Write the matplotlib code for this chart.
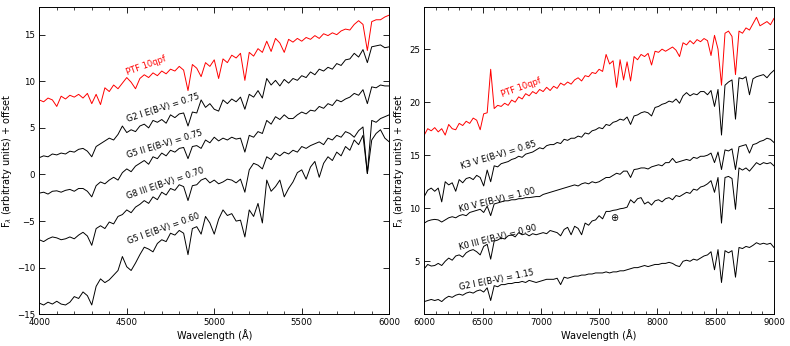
import numpy as np
import matplotlib
matplotlib.use('Agg')
import matplotlib.pyplot as plt
from matplotlib.ticker import MultipleLocator

wl_blue = np.arange(4000, 6001, 25)
wl_red = np.arange(6000, 9001, 30)

# blue side (4000-6000 A)
ptf_blue = [8.0, 7.8, 8.2, 8.0, 7.3, 8.4, 8.1, 8.5, 8.3, 8.6,
            8.2, 8.7, 7.6, 8.6, 7.5, 9.3, 8.9, 9.6, 9.2, 9.8,
            10.4, 9.9, 9.2, 10.3, 10.7, 10.4, 10.9, 10.6, 11.1, 10.8,
            11.3, 11.1, 11.6, 11.2, 9.0, 11.8, 11.4, 10.5, 12.0, 11.6,
            12.3, 10.3, 12.4, 12.0, 12.8, 12.5, 13.0, 10.1, 13.1, 12.7,
            13.5, 13.1, 14.3, 13.2, 14.6, 14.1, 13.1, 14.5, 14.2, 14.6,
            14.3, 14.7, 14.5, 14.9, 14.6, 15.1, 14.9, 15.2, 15.0, 15.4,
            15.6, 15.5, 16.1, 16.5, 16.1, 13.3, 16.4, 16.6, 16.6, 16.9,
            17.1]
g2i_blue = [1.8, 2.0, 1.9, 2.2, 2.1, 2.3, 2.2, 2.5, 2.4, 2.7,
            2.8, 2.5, 1.9, 3.0, 3.3, 3.6, 3.9, 3.7, 4.3, 5.2,
            4.5, 4.8, 4.6, 5.2, 5.4, 5.0, 5.8, 5.6, 5.9, 5.5,
            6.4, 6.1, 6.5, 6.6, 5.2, 6.7, 6.6, 8.0, 7.2, 7.6,
            7.0, 6.8, 8.0, 7.6, 8.1, 7.8, 8.3, 7.0, 8.6, 8.3,
            9.0, 8.2, 10.3, 9.6, 10.1, 9.5, 10.2, 9.8, 10.3, 10.1,
            10.6, 10.4, 11.0, 10.7, 11.3, 11.1, 11.5, 11.3, 11.9, 11.7,
            12.3, 12.4, 13.0, 12.6, 13.4, 12.0, 13.7, 13.8, 13.9, 13.6,
            13.7]
g5ii_blue = [-2.0, -1.9, -2.1, -1.8, -1.75, -1.9, -1.7, -1.6, -1.8, -1.5,
             -1.5, -1.8, -2.4, -1.2, -0.8, -1.0, -0.6, -0.3, -0.6, 0.2,
             0.6, 0.3, 0.9, 1.2, 1.5, 1.1, 1.9, 1.7, 2.3, 2.0,
             2.6, 2.4, 2.8, 2.9, 1.7, 3.0, 3.1, 2.8, 3.7, 3.4,
             4.0, 3.6, 3.9, 3.7, 4.0, 3.8, 3.9, 2.4, 4.2, 4.0,
             4.6, 4.4, 5.8, 5.4, 6.2, 5.9, 6.4, 6.0, 6.0, 6.4,
             6.7, 6.5, 6.9, 6.8, 7.3, 7.1, 7.6, 7.4, 8.0, 7.8,
             8.1, 8.3, 8.7, 8.5, 9.1, 7.6, 9.4, 9.3, 9.6, 9.5,
             9.5]
g8iii_blue = [-7.0, -7.2, -6.9, -6.7, -6.8, -7.0, -6.9, -6.7, -6.9, -6.5,
              -6.2, -6.6, -7.6, -5.8, -5.5, -5.8, -5.1, -5.3, -4.5, -4.3,
              -3.8, -4.1, -3.5, -3.2, -2.8, -3.1, -2.4, -2.7, -1.9, -2.2,
              -1.5, -1.7, -1.1, -1.3, -2.8, -1.2, -1.1, -0.6, -0.4, -0.9,
              -0.6, -1.0, -0.8, -0.5, -0.6, -0.9, -0.5, -1.9, 0.5, 1.2,
              1.0, 0.6, 1.9, 1.6, 2.3, 2.0, 2.4, 2.2, 2.6, 2.4,
              3.0, 2.8, 3.1, 3.3, 3.5, 3.2, 3.9, 3.7, 4.2, 4.0,
              4.6, 4.4, 4.0, 4.7, 5.1, 0.1, 5.8, 5.6, 6.0, 6.2,
              6.4]
g5i_blue = [-13.8, -14.0, -13.7, -13.9, -13.6, -13.9, -14.0, -13.7, -13.1, -13.3,
            -12.6, -13.0, -14.0, -12.0, -11.2, -11.6, -11.3, -10.8, -10.3, -8.8,
            -9.9, -10.3, -9.5, -8.6, -7.8, -8.0, -8.3, -7.4, -7.0, -7.2,
            -6.3, -6.5, -6.0, -6.3, -8.6, -5.8, -5.6, -6.4, -4.5, -5.2,
            -6.4, -4.8, -3.8, -4.4, -4.2, -5.0, -4.9, -6.7, -3.8, -4.5,
            -3.1, -5.2, -0.6, -1.8, -1.3, -0.6, -2.4, -1.5, -0.8, 0.2,
            0.5, -0.5, 0.8, 1.4, -0.3, 1.2, 1.9, 1.5, 2.4, 2.0,
            3.0, 2.6, 3.7, 3.2, 4.2, 0.1, 3.7, 4.4, 4.8, 3.9,
            3.5]

# red side (6000-9000 A)
ptf_red = [16.9, 17.5, 17.3, 17.6, 17.2, 17.5, 16.9, 17.9, 17.5, 17.4,
           18.0, 17.8, 18.2, 18.0, 18.5, 18.3, 17.4, 18.9, 19.0, 23.1,
           19.4, 19.7, 19.6, 19.9, 19.7, 20.2, 20.0, 20.5, 20.3, 20.8,
           20.6, 21.0, 20.8, 21.2, 21.0, 21.4, 21.1, 21.5, 21.3, 21.8,
           21.6, 21.9, 21.7, 22.1, 22.3, 22.0, 22.5, 22.4, 22.8, 22.7,
           23.1, 22.9, 24.5, 23.6, 23.9, 21.4, 24.0, 22.1, 23.8, 22.0,
           24.3, 24.0, 24.5, 24.3, 24.6, 23.5, 24.8, 24.7, 25.0, 24.8,
           25.0, 25.2, 24.9, 24.3, 25.6, 25.4, 25.8, 25.5, 25.9, 25.7,
           26.0, 25.8, 24.4, 26.3, 25.0, 21.6, 26.5, 26.7, 26.2, 22.6,
           26.7, 26.5, 27.0, 26.8, 27.4, 28.0, 27.2, 27.4, 27.6, 27.3,
           27.9]
k3v_red = [11.1, 11.7, 11.9, 11.6, 11.9, 10.6, 12.5, 12.2, 12.4, 11.6,
           12.7, 12.4, 12.8, 12.9, 12.7, 13.1, 12.9, 12.1, 13.6, 12.5,
           14.0, 13.9, 14.2, 14.3, 14.4, 14.6, 14.7, 14.9, 14.8, 15.1,
           15.2, 15.3, 15.5, 15.7, 15.6, 15.9, 16.0, 16.0, 16.2, 16.1,
           16.5, 16.4, 16.6, 16.6, 16.8, 16.7, 17.1, 17.0, 17.3, 17.4,
           17.6, 17.5, 17.9, 17.8, 18.1, 18.2, 18.4, 18.3, 18.6, 17.9,
           18.7, 18.8, 19.0, 19.1, 19.0, 18.7, 19.5, 19.6, 19.8, 19.9,
           20.1, 20.0, 20.3, 19.9, 20.6, 20.9, 20.6, 20.8, 20.7, 21.0,
           21.0, 20.7, 21.1, 19.6, 21.2, 16.9, 21.6, 21.9, 22.1, 18.4,
           22.3, 22.2, 22.4, 20.7, 22.2, 22.4, 22.5, 22.6, 22.3, 22.7,
           23.0]
k0v_red = [8.6, 8.8, 8.9, 8.95, 8.9, 8.7, 8.9, 9.1, 9.2, 9.1,
           9.3, 9.4, 9.3, 9.6, 9.7, 9.8, 9.9, 9.6, 10.2, 9.3,
           10.4, 10.5, 10.6, 10.7, 10.7, 10.8, 10.8, 10.9, 10.9, 11.0,
           11.0, 11.05, 11.1, 11.1, 11.3, 11.4, 11.5, 11.6, 11.7, 11.8,
           11.9, 12.0, 12.1, 12.2, 12.1, 12.3, 12.4, 12.3, 12.5, 12.4,
           12.5, 12.7, 12.9, 12.9, 13.1, 13.3, 13.2, 13.5, 13.5, 12.9,
           13.65, 13.7, 13.8, 13.8, 13.7, 13.9, 14.0, 14.1, 14.0, 14.3,
           14.3, 14.7, 14.3, 14.4, 14.5, 14.6, 14.5, 14.8, 14.7, 14.9,
           14.9, 15.0, 15.2, 14.3, 15.3, 13.65, 15.5, 15.4, 15.6, 13.65,
           15.8, 15.9, 16.0, 15.2, 16.0, 16.1, 16.3, 16.4, 16.6, 16.5,
           16.2]
k0iii_red = [4.3, 4.7, 4.55, 4.6, 4.8, 4.6, 5.0, 5.3, 5.1, 5.5,
             5.6, 5.4, 5.8, 6.0, 6.1, 5.9, 5.6, 6.4, 6.6, 5.2,
             6.9, 7.0, 7.2, 7.1, 7.4, 7.5, 7.3, 7.7, 7.5, 7.6,
             7.4, 7.6, 7.5, 7.6, 7.7, 7.6, 7.9, 7.8, 7.7, 7.4,
             8.0, 8.2, 7.5, 8.3, 8.1, 7.5, 8.6, 8.4, 8.8, 8.9,
             9.3, 9.0, 9.7, 9.7, 9.8, 9.85, 9.95, 10.0, 10.1, 10.8,
             10.5, 10.9, 11.0, 10.4, 10.6, 10.3, 10.7, 10.8, 10.6, 10.9,
             11.0, 10.8, 11.2, 11.1, 11.3, 11.5, 11.4, 11.8, 11.7, 12.0,
             12.1, 12.3, 12.6, 11.5, 12.9, 8.6, 12.9, 13.0, 12.8, 9.9,
             13.8, 13.6, 13.8, 13.5, 13.9, 14.3, 14.1, 14.3, 14.2, 14.3,
             14.0]
g2i_red = [1.2, 1.3, 1.4, 1.3, 1.4, 1.2, 1.5, 1.7, 1.6, 1.8,
           1.9, 1.8, 2.0, 2.1, 2.0, 2.2, 2.3, 2.1, 2.5, 1.3,
           2.7, 2.6, 2.8, 2.8, 2.9, 2.9, 3.0, 3.0, 3.1, 3.0,
           3.2, 3.1, 3.0, 3.1, 3.2, 3.3, 3.3, 3.3, 3.4, 2.8,
           3.5, 3.4, 3.5, 3.6, 3.6, 3.7, 3.7, 3.8, 3.8, 3.9,
           3.9, 3.9, 4.0, 3.9, 4.0, 4.0, 4.1, 4.1, 4.2, 4.3,
           4.4, 4.4, 4.5, 4.6, 4.5, 4.6, 4.7, 4.7, 4.8, 4.8,
           4.9, 4.8, 4.6, 4.5, 5.0, 5.1, 5.0, 5.2, 5.1, 5.3,
           5.5, 5.6, 5.9, 4.2, 6.1, 3.0, 6.0, 5.8, 6.0, 3.5,
           6.3, 6.2, 6.4, 6.3, 6.5, 6.75, 6.6, 6.7, 6.6, 6.7,
           6.3]

# labels: text, x, y, angle
labels_blue = [('G2 I E(B-V) = 0.75', 4709, 7.1, 18),
               ('G5 II E(B-V) = 0.75', 4718, 3.3, 17),
               ('G8 III E(B-V) = 0.70', 4722, -1.0, 19),
               ('G5 I E(B-V) = 0.60', 4709, -5.8, 20)]
labels_red = [('K3 V E(B-V) = 0.85', 6641, 15.0, 17),
              ('K0 V E(B-V) = 1.00', 6626, 10.8, 14),
              ('K0 III E(B-V) = 0.90', 6635, 7.2, 14.5),
              ('G2 I E(B-V) = 1.15', 6620, 3.25, 11.5)]

fig = plt.figure(figsize=(7.9, 3.46), dpi=100)
ax1 = fig.add_axes([0.0497, 0.0916, 0.443, 0.889])
ax2 = fig.add_axes([0.537, 0.0916, 0.4427, 0.889])

lw = 0.7
ax1.plot(wl_blue, ptf_blue, color='red', lw=lw)
for s in [g2i_blue, g5ii_blue, g8iii_blue, g5i_blue]:
    ax1.plot(wl_blue, s, color='black', lw=lw)
ax1.text(4613, 11.7, 'PTF 10qpf', color='red', fontsize=6, rotation=20,
         ha='center', va='center', rotation_mode='anchor')
for txt, x, y, ang in labels_blue:
    ax1.text(x, y, txt, fontsize=6, rotation=ang, ha='center', va='center',
             rotation_mode='anchor')

ax2.plot(wl_red, ptf_red, color='red', lw=lw)
for s in [k3v_red, k0v_red, k0iii_red, g2i_red]:
    ax2.plot(wl_red, s, color='black', lw=lw)
ax2.text(6835, 21.4, 'PTF 10qpf', color='red', fontsize=6, rotation=20,
         ha='center', va='center', rotation_mode='anchor')
for txt, x, y, ang in labels_red:
    ax2.text(x, y, txt, fontsize=6, rotation=ang, ha='center', va='center',
             rotation_mode='anchor')
ax2.text(7636, 9.1, r'$\oplus$', fontsize=7, ha='center', va='center')

ax1.set_xlim(4000, 6000)
ax1.set_ylim(-15, 18)
ax1.set_xticks([4000, 4500, 5000, 5500, 6000])
ax1.set_yticks([-15, -10, -5, 0, 5, 10, 15])
ax2.set_xlim(6000, 9000)
ax2.set_ylim(0, 29)
ax2.set_xticks([6000, 6500, 7000, 7500, 8000, 8500, 9000])
ax2.set_yticks([5, 10, 15, 20, 25])

for ax in (ax1, ax2):
    ax.xaxis.set_minor_locator(MultipleLocator(100))
    ax.tick_params(which='both', direction='in', top=True, right=True,
                   labelsize=6.2, pad=3)
    ax.tick_params(which='major', length=4, width=0.6)
    ax.tick_params(which='minor', length=2, width=0.5)
    for sp in ax.spines.values():
        sp.set_linewidth(0.7)
    ax.set_xlabel('Wavelength (Å)', fontsize=7, labelpad=1)
    ax.set_ylabel(r'F$_\lambda$ (arbitraty units) + offset', fontsize=7, labelpad=2)

fig.savefig('out.png', dpi=100)
